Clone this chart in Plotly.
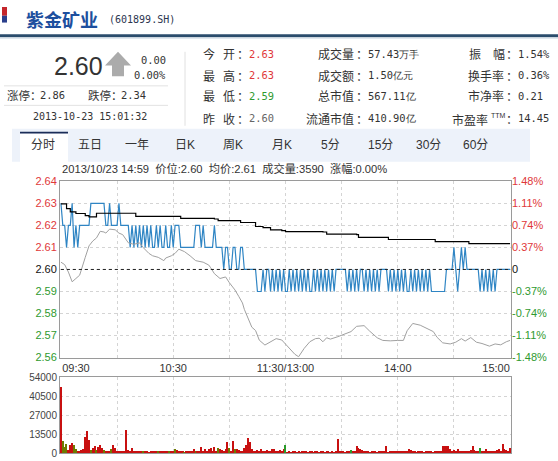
import plotly.graph_objects as go

W, H = 558, 461

# ---------------- data ----------------
stock_name = "紫金矿业"
stock_code = "(601899.SH)"
last_price = "2.60"
change_abs = "0.00"
change_pct = "0.00%"
limit_up = "2.86"
limit_down = "2.34"
quote_time = "2013-10-23 15:01:32"
prev_close = 2.60

col1_labels = [("今", "开"), ("最", "高"), ("最", "低"), ("昨", "收")]
col1_values = ["2.63", "2.63", "2.59", "2.60"]
col1_colors = ["#e0383a", "#e0383a", "#2f9a2f", "#666666"]
col2_labels = ["成交量", "成交额", "总市值", "流通市值"]
col2_values = ["57.43万手", "1.50亿元", "567.11亿", "410.90亿"]
col3_labels = ["振幅", "换手率", "市净率", "市盈率"]
col3_values = ["1.54%", "0.36%", "0.21", "14.45"]

tab_labels = ["分时", "五日", "一年", "日K", "周K", "月K", "5分", "15分", "30分", "60分"]
info_line = "2013/10/23 14:59  价位:2.60  均价:2.61  成交量:3590  涨幅:0.00%"

time_ticks = [0, 60, 120, 180, 240]
time_labels = ["09:30", "10:30", "11:30/13:00", "14:00", "15:00"]
grid_minutes = [30, 60, 90, 120, 150, 180, 210]

price_ticks = [2.56, 2.57, 2.58, 2.59, 2.60, 2.61, 2.62, 2.63, 2.64]
pct_labels = ["-1.48%", "-1.11%", "-0.74%", "-0.37%", "0", "0.37%", "0.74%", "1.11%", "1.48%"]
vol_ticks = [0, 13500, 27000, 40500, 54000]

# minute price (09:30 .. 15:00, 241 points)
price = [
    2.63, 2.62, 2.62, 2.61, 2.62, 2.62, 2.63, 2.61, 2.62, 2.61,
    2.62, 2.62, 2.62, 2.62, 2.62, 2.62, 2.63, 2.63, 2.63, 2.63,
    2.63, 2.63, 2.63, 2.63, 2.62, 2.62, 2.63, 2.62, 2.62, 2.62,
    2.62, 2.63, 2.62, 2.62, 2.62, 2.62, 2.62, 2.61, 2.62, 2.61,
    2.62, 2.61, 2.62, 2.61, 2.62, 2.61, 2.62, 2.61, 2.62, 2.61,
    2.61, 2.62, 2.61, 2.62, 2.61, 2.61, 2.62, 2.61, 2.61, 2.62,
    2.61, 2.62, 2.62, 2.62, 2.61, 2.61, 2.61, 2.61, 2.61, 2.61,
    2.61, 2.61, 2.62, 2.62, 2.62, 2.61, 2.62, 2.61, 2.61, 2.61,
    2.61, 2.61, 2.62, 2.61, 2.61, 2.61, 2.61, 2.60, 2.61, 2.61,
    2.60, 2.60, 2.61, 2.61, 2.60, 2.60, 2.61, 2.61, 2.60, 2.60,
    2.60, 2.60, 2.60, 2.60, 2.60, 2.59, 2.59, 2.59, 2.60, 2.59,
    2.60, 2.60, 2.59, 2.60, 2.59, 2.60, 2.59, 2.60, 2.59, 2.60,
    2.59, 2.59, 2.60, 2.59, 2.60, 2.59, 2.60, 2.59, 2.60, 2.59,
    2.60, 2.59, 2.60, 2.59, 2.59, 2.60, 2.59, 2.60, 2.59, 2.60,
    2.59, 2.60, 2.59, 2.60, 2.59, 2.60, 2.59, 2.60, 2.60, 2.60,
    2.60, 2.60, 2.60, 2.59, 2.60, 2.59, 2.60, 2.59, 2.60, 2.59,
    2.60, 2.60, 2.59, 2.60, 2.59, 2.60, 2.59, 2.60, 2.59, 2.60,
    2.59, 2.60, 2.60, 2.60, 2.60, 2.59, 2.60, 2.59, 2.60, 2.59,
    2.60, 2.59, 2.60, 2.59, 2.60, 2.59, 2.59, 2.60, 2.59, 2.60,
    2.59, 2.60, 2.59, 2.60, 2.59, 2.60, 2.59, 2.60, 2.59, 2.59,
    2.59, 2.59, 2.59, 2.59, 2.59, 2.59, 2.60, 2.60, 2.60, 2.60,
    2.61, 2.60, 2.59, 2.60, 2.61, 2.60, 2.61, 2.60, 2.60, 2.60,
    2.60, 2.60, 2.60, 2.60, 2.59, 2.60, 2.59, 2.60, 2.59, 2.60,
    2.59, 2.60, 2.59, 2.60, 2.60, 2.60, 2.60, 2.60, 2.60, 2.60,
    2.60,
]

# average price line (minute, value)
avg_minutes = [0, 3, 5, 8, 13, 15, 18, 19, 38, 40, 63, 64, 82, 84, 95, 96, 100,
               104, 108, 112, 118, 120, 140, 142, 158, 159, 174, 175, 198, 200,
               217, 218, 240]
avg_values = [2.6298, 2.6276, 2.6261, 2.6254, 2.6244, 2.6239, 2.6239, 2.6255,
              2.6255, 2.6241, 2.6241, 2.6232, 2.6229, 2.6222, 2.6222, 2.6213,
              2.6213, 2.6195, 2.6190, 2.6180, 2.6176, 2.6172, 2.6170, 2.6160,
              2.6158, 2.6146, 2.6146, 2.6136, 2.6136, 2.6126, 2.6126, 2.6117,
              2.6117]

# index overlay line (grey), minute and scaled value
idx_minutes = [0, 2, 4, 6, 8, 10, 13, 15, 17, 19, 21, 23, 24, 26, 29, 31, 33,
               36, 39, 42, 44, 47, 49, 52, 55, 56, 59, 61, 63, 66, 69, 72, 76,
               79, 80, 82, 85, 88, 90, 93, 95, 97, 98, 100, 102, 104, 106, 109,
               112, 115, 118, 122, 125, 127, 130, 133, 136, 138, 140, 142, 144,
               148, 151, 155, 158, 162, 165, 169, 172, 176, 180, 183, 185, 188,
               192, 196, 199, 201, 204, 208, 211, 214, 216, 219, 222, 225, 229,
               232, 235, 238, 240]
idx_values = [2.6033, 2.6022, 2.5988, 2.5944, 2.5959, 2.5974, 2.6055, 2.6107,
              2.6129, 2.6143, 2.6173, 2.6170, 2.6165, 2.6183, 2.6180, 2.6165,
              2.6158, 2.6121, 2.6114, 2.6121, 2.6099, 2.6073, 2.6062, 2.6055,
              2.6040, 2.6052, 2.6062, 2.6073, 2.6092, 2.6081, 2.6062, 2.6040,
              2.6033, 2.6020, 2.6008, 2.5981, 2.5959, 2.5966, 2.5940, 2.5907,
              2.5878, 2.5848, 2.5819, 2.5775, 2.5738, 2.5723, 2.5679, 2.5657,
              2.5671, 2.5686, 2.5680, 2.5642, 2.5615, 2.5604, 2.5642, 2.5672,
              2.5686, 2.5688, 2.5672, 2.5690, 2.5684, 2.5695, 2.5705, 2.5718,
              2.5742, 2.5745, 2.5720, 2.5690, 2.5678, 2.5676, 2.5678, 2.5678,
              2.5722, 2.5755, 2.5747, 2.5732, 2.5718, 2.5692, 2.5667, 2.5662,
              2.5670, 2.5686, 2.5675, 2.5691, 2.5670, 2.5664, 2.5652, 2.5662,
              2.5658, 2.5672, 2.5678]

# minute volume (241 points)
volume = [
    46600, 8800, 4200, 6500, 2000, 5800, 7000, 5800, 3000, 1500,
    900, 1800, 2500, 11100, 15300, 9500, 1800, 3500, 5300, 2300,
    4200, 6000, 3500, 1800, 1000, 800, 1200, 3000, 6000, 3500,
    1200, 900, 1000, 700, 1400, 16500, 1800, 1000, 3500, 1200,
    800, 1500, 900, 700, 1100, 1400, 800, 600, 1000, 1300,
    900, 700, 1200, 800, 1000, 1500, 900, 700, 1100, 800,
    1000, 2500, 1800, 900, 700, 1000, 600, 800, 1200, 700,
    900, 2500, 1400, 800, 1000, 4200, 1200, 2500, 900, 2500,
    3500, 1000, 4200, 1500, 3500, 2500, 1800, 1000, 2500, 7600,
    3500, 1200, 8300, 3000, 2500, 1800, 900, 1200, 3500, 5800,
    10700, 7600, 3000, 1200, 900, 1800, 1000, 2500, 800, 1200,
    1800, 700, 1000, 2500, 2500, 900, 1200, 1800, 800, 2500,
    5800, 600, 800, 500, 900, 700, 600, 1000, 500, 800,
    700, 900, 600, 800, 1100, 500, 700, 900, 600, 1400,
    800, 600, 700, 900, 500, 800, 600, 1000, 10000, 1000,
    700, 900, 600, 800, 1000, 1800, 800, 1000, 4900, 3500,
    2500, 1800, 1200, 700, 900, 600, 800, 1000, 700, 600,
    800, 900, 700, 1000, 4900, 600, 800, 700, 900, 1000,
    800, 1200, 900, 700, 1000, 1200, 3000, 1800, 900, 700,
    600, 800, 700, 900, 600, 1000, 800, 700, 900, 600,
    800, 700, 1000, 1200, 4900, 5300, 5300, 4900, 2500, 1200,
    1800, 900, 2500, 800, 1000, 1400, 700, 1000, 1500, 1800,
    5300, 1800, 800, 1000, 3500, 1200, 900, 2500, 800, 1000,
    1400, 700, 1200, 1800, 2500, 1000, 6500, 3000, 1800, 1200,
    3590,
]
olive_minutes = [1, 2, 3, 7, 8, 16, 19, 23, 27, 44, 52, 58, 61, 66, 72, 84, 90, 93]
green_minutes = [120, 155, 224]

minutes = list(range(len(price)))

# ---------------- styling ----------------
CJK = "Noto Sans CJK SC"
MONO = "DejaVu Sans Mono"
SANS = "Liberation Sans"
RED = "#e0383a"
GREEN = "#2f9a2f"
TXT = "#333333"


def px(x):
    return x / W


def py(y):
    return 1 - y / H


def rect(x0, y0, x1, y1, fill, layer="below"):
    return dict(type="rect", xref="paper", yref="paper", x0=px(x0), x1=px(x1),
                y0=py(y1), y1=py(y0), fillcolor=fill, line=dict(width=0),
                layer=layer)


def hline(x0, x1, y, color, width=1):
    return dict(type="line", xref="paper", yref="paper", x0=px(x0), x1=px(x1),
                y0=py(y), y1=py(y), line=dict(color=color, width=width))


def vline(x, y0, y1, color, width=1):
    return dict(type="line", xref="paper", yref="paper", x0=px(x), x1=px(x),
                y0=py(y0), y1=py(y1), line=dict(color=color, width=width))


def txt(x, y, s, size=12, color=TXT, family=CJK, anchor="left"):
    return dict(x=px(x), y=py(y), xref="paper", yref="paper", text=s,
                showarrow=False, xanchor=anchor, yanchor="middle", borderpad=0,
                font=dict(size=size, color=color, family=family))


fig = go.Figure()

# price line
fig.add_trace(go.Scatter(x=minutes, y=price, mode="lines",
                         line=dict(color="#2f85c4", width=1.2),
                         xaxis="x", yaxis="y", hoverinfo="skip"))
# index overlay
fig.add_trace(go.Scatter(x=idx_minutes, y=idx_values, mode="lines",
                         line=dict(color="#a0a0a0", width=1),
                         xaxis="x", yaxis="y", hoverinfo="skip"))
# average line
fig.add_trace(go.Scatter(x=avg_minutes, y=avg_values, mode="lines",
                         line=dict(color="#000000", width=1.2, shape="hv"),
                         xaxis="x", yaxis="y", hoverinfo="skip"))
# previous close
fig.add_trace(go.Scatter(x=[minutes[0], minutes[-1]], y=[prev_close, prev_close],
                         mode="lines", line=dict(color="#222222", width=1, dash="dot"),
                         xaxis="x", yaxis="y", hoverinfo="skip"))
# helper for right axis
fig.add_trace(go.Scatter(x=[minutes[0]], y=[prev_close], mode="markers",
                         marker=dict(opacity=0), xaxis="x", yaxis="y2",
                         hoverinfo="skip"))

bar_colors = []
for m in minutes:
    if m in green_minutes:
        bar_colors.append("#2a9a2a")
    elif m in olive_minutes:
        bar_colors.append("#6e7a00")
    else:
        bar_colors.append("#c81010")
fig.add_trace(go.Bar(x=minutes, y=volume, marker=dict(color=bar_colors, line=dict(width=0)),
                     width=0.6, xaxis="x2", yaxis="y3", hoverinfo="skip"))


def colored(v, lab):
    if v > prev_close + 1e-9:
        c = RED
    elif v < prev_close - 1e-9:
        c = GREEN
    else:
        c = "#111111"
    return f"<span style='color:{c}'>{lab}</span>"


left_text = [colored(v, f"{v:.2f}") for v in price_ticks]
right_text = [colored(v, l) for v, l in zip(price_ticks, pct_labels)]

# x label anchor shifts: first left-aligned, last right-aligned
label_shift = [8, 0, 0, 0, -7.5]
label_pos = [t + s for t, s in zip(time_ticks, label_shift)]

XDOM = [px(60), px(511)]
XR = [-0.5, 240.5]
axis_common = dict(showline=True, mirror=True, linecolor="#9a9a9a", linewidth=1,
                   zeroline=False, ticks="")
grid_minor = dict(tickvals=grid_minutes, showgrid=True, gridcolor="#d4d4d4",
                  griddash="dot", gridwidth=1, ticks="")

fig.update_layout(
    width=W, height=H, margin=dict(l=0, r=0, t=0, b=0),
    paper_bgcolor="white", plot_bgcolor="white", showlegend=False,
    font=dict(family=SANS, size=11, color=TXT),
    bargap=0,
    xaxis=dict(domain=XDOM, range=XR, anchor="y", tickmode="array",
               tickvals=label_pos, ticktext=time_labels, showgrid=False,
               tickfont=dict(size=11, color=TXT, family=SANS),
               minor=grid_minor, **axis_common),
    yaxis=dict(domain=[py(361), py(180)], range=[price_ticks[0], price_ticks[-1]],
               anchor="x", tickmode="array", tickvals=price_ticks, ticktext=left_text,
               showgrid=True, gridcolor="#d4d4d4", griddash="dot",
               tickfont=dict(size=11, family=SANS), **axis_common),
    yaxis2=dict(overlaying="y", side="right", anchor="x",
                range=[price_ticks[0], price_ticks[-1]], tickmode="array",
                tickvals=price_ticks, ticktext=right_text, showgrid=False,
                showline=False, zeroline=False, ticks="",
                tickfont=dict(size=11, family=SANS)),
    xaxis2=dict(domain=XDOM, range=XR, anchor="y3", showticklabels=False,
                showgrid=False, minor=grid_minor, **axis_common),
    yaxis3=dict(domain=[py(459), py(381)], range=[vol_ticks[0], vol_ticks[-1]],
                anchor="x2", tickmode="array", tickvals=vol_ticks,
                ticktext=[str(v) for v in vol_ticks], showgrid=True,
                gridcolor="#d4d4d4", griddash="dot",
                tickfont=dict(size=10, color="#444", family=SANS), **axis_common),
)

shapes = []
ann = []

# header
shapes.append(rect(2, 1, 7, 10, "#c4262c", layer="above"))
shapes.append(rect(2, 10, 7, 17, "#2a3f8c", layer="above"))
ann.append(txt(25, 13, f"<b>{stock_name}</b>", size=18, color="#1d4f9e"))
ann.append(txt(108, 14, stock_code, size=10, color="#2b3550", family=MONO))
shapes.append(rect(0, 29, W, 32, "#2b4d6c", layer="above"))
shapes.append(hline(0, W, 33, "#cfdbe6", 1))

# quote block
ann.append(txt(104, 62, last_price, size=25, color="#333", family=SANS, anchor="right"))
arrow = "M {},{} L {},{} L {},{} L {},{} L {},{} L {},{} L {},{} Z".format(
    px(118), py(47), px(131), py(61), px(124), py(61), px(124), py(72),
    px(112), py(72), px(112), py(61), px(105), py(61))
shapes.append(dict(type="path", xref="paper", yref="paper", path=arrow,
                   fillcolor="#ababab", line=dict(width=0)))
ann.append(txt(167, 55, change_abs, size=10.4, color="#333", family=MONO, anchor="right"))
ann.append(txt(167, 71, change_pct, size=10.4, color="#333", family=MONO, anchor="right"))
shapes.append(hline(4, 168, 82, "#e2e2e2", 1))
shapes.append(hline(4, 168, 102, "#e2e2e2", 1))
ann.append(txt(6, 91, "涨停：", size=11.5))
ann.append(txt(39, 91, limit_up, size=10.4, family=MONO))
ann.append(txt(87, 91, "跌停：", size=11.5))
ann.append(txt(120, 91, limit_down, size=10.4, family=MONO))
ann.append(txt(32, 113, quote_time, size=10, family=MONO))
shapes.append(vline(185, 47, 123, "#e0e0e0", 1))

rows_y = [49, 71, 92, 115]
for (a, b), v, c, y in zip(col1_labels, col1_values, col1_colors, rows_y):
    ann.append(txt(202, y, a, size=12))
    ann.append(txt(222, y, b, size=12))
    ann.append(txt(236, y, "：", size=12))
    ann.append(txt(248, y, v, size=10.4, color=c, family=MONO))
for lab, v, y in zip(col2_labels, col2_values, rows_y):
    ann.append(txt(355, y, lab, size=12, anchor="right"))
    ann.append(txt(355, y, "：", size=12))
    ann.append(txt(367, y, v, size=10.4, family=MONO))
for i, (lab, v, y) in enumerate(zip(col3_labels, col3_values, rows_y)):
    if i == 0:
        ann.append(txt(468, y, lab[0], size=12))
        ann.append(txt(492, y, lab[1], size=12))
    elif i == 3:
        ann.append(txt(489, y + 2, lab, size=12, anchor="right"))
        ann.append(txt(490, y - 3, "TTM", size=7, family=SANS))
    else:
        ann.append(txt(505, y, lab, size=12, anchor="right"))
    ann.append(txt(505, y, "：", size=12))
    ann.append(txt(517, y, v, size=10.4, family=MONO))

# tab bar
shapes.append(rect(12, 126, 530, 160, "#edf2fa"))
shapes.append(rect(20, 131, 68, 161, "#ffffff"))
shapes.append(rect(20, 129, 68, 131, "#1b2d58"))
tab_x = [43, 90, 137, 185, 233, 282, 330, 380, 428, 475]
for t, x in zip(tab_labels, tab_x):
    ann.append(txt(x, 143, t, size=12, family=SANS + ", " + CJK, anchor="center"))

ann.append(txt(61, 167, info_line, size=11.2, family=SANS + ", " + CJK))

fig.update_layout(shapes=shapes, annotations=ann)

fig.write_html("out.html", config={"displayModeBar": False},
               post_script="document.body.style.margin='0';")
